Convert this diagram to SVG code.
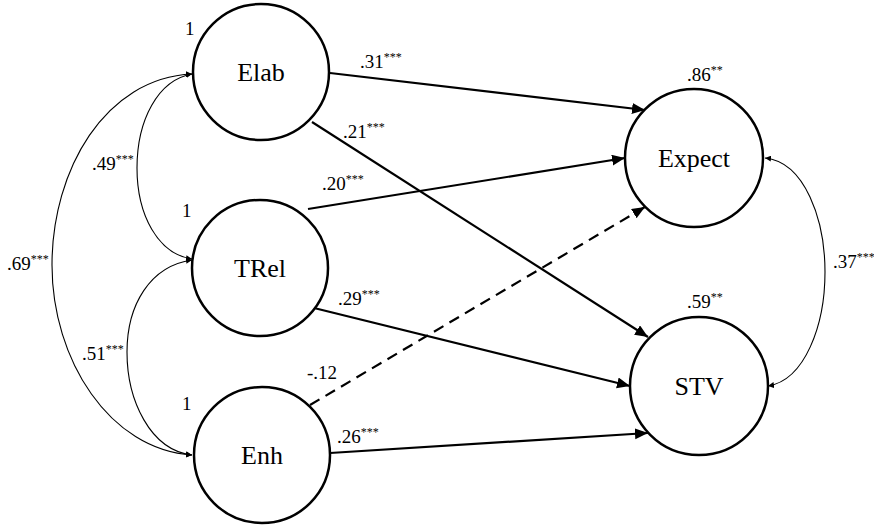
<svg xmlns="http://www.w3.org/2000/svg" width="874" height="525" viewBox="0 0 874 525" font-family="'Liberation Serif', 'DejaVu Serif', serif">
  <style>
    text { font-family: "Liberation Serif", "DejaVu Serif", serif; fill: #000; }
    .node circle { fill: #fff; stroke: #000; stroke-width: 2.5; }
    .node text { font-size: 26px; text-anchor: middle; }
    .path { fill: none; stroke: #000; stroke-width: 2.2; marker-end: url(#head); }
    .dash { stroke-dasharray: 11 7; }
    .cov { fill: none; stroke: #000; stroke-width: 1.1; marker-start: url(#tip); marker-end: url(#tip); }
    .lbl text { font-size: 19px; }
    .sup { font-size: 12px; }
  </style>
  <defs>
    <marker id="head" markerUnits="userSpaceOnUse" markerWidth="14" markerHeight="12" refX="13" refY="5.5" orient="auto">
      <path d="M0,0 L13,5.5 L0,11 z" fill="#000"/>
    </marker>
    <marker id="tip" markerUnits="userSpaceOnUse" markerWidth="7" markerHeight="6" refX="6" refY="3" orient="auto-start-reverse">
      <path d="M0,0 L6,3 L0,6 z" fill="#000"/>
    </marker>
  </defs>

  <!-- structural paths and covariances -->
  <g id="connectors">
    <line class="path" x1="330" y1="73" x2="645" y2="110"/>
    <line class="path" x1="312" y1="122" x2="648" y2="337"/>
    <line class="path" x1="308" y1="209" x2="625" y2="158"/>
    <line class="path" x1="310" y1="307" x2="630" y2="386"/>
    <line class="path dash" x1="310" y1="405" x2="645" y2="207"/>
    <line class="path" x1="330" y1="453" x2="648" y2="433"/>

    <path class="cov" d="M192,74 C158,80 137,120 137,168 C137,215 158,254 192,259"/>
    <path class="cov" d="M192,74 C105,78 52,170 52,265 C52,360 110,450 192,455"/>
    <path class="cov" d="M192,260 C150,266 127,305 127,352 C127,400 150,450 192,455"/>
    <path class="cov" d="M765,158 C805,162 825,220 825,272 C825,325 805,380 768,386"/>
  </g>

  <g id="Elab" class="node">
    <circle cx="261" cy="72" r="68"/>
    <text x="261" y="81">Elab</text>
  </g>
  <g id="TRel" class="node">
    <circle cx="260" cy="268" r="68"/>
    <text x="260" y="277">TRel</text>
  </g>
  <g id="Enh" class="node">
    <circle cx="262" cy="455" r="68"/>
    <text x="262" y="464">Enh</text>
  </g>
  <g id="Expect" class="node">
    <circle cx="694" cy="158" r="69"/>
    <text x="694" y="167">Expect</text>
  </g>
  <g id="STV" class="node">
    <circle cx="699" cy="386" r="69"/>
    <text x="699" y="395">STV</text>
  </g>

  <!-- coefficient labels -->
  <g id="labels" class="lbl">
    <text x="360" y="68">.31<tspan class="sup" dy="-7">***</tspan></text>
    <text x="343" y="138">.21<tspan class="sup" dy="-7">***</tspan></text>
    <text x="322" y="190">.20<tspan class="sup" dy="-7">***</tspan></text>
    <text x="338" y="305">.29<tspan class="sup" dy="-7">***</tspan></text>
    <text x="307" y="379">-.12</text>
    <text x="337" y="443">.26<tspan class="sup" dy="-7">***</tspan></text>
    <text x="687" y="81">.86<tspan class="sup" dy="-7">**</tspan></text>
    <text x="687" y="308">.59<tspan class="sup" dy="-7">**</tspan></text>
    <text x="833" y="268">.37<tspan class="sup" dy="-7">***</tspan></text>
    <text x="92" y="170">.49<tspan class="sup" dy="-7">***</tspan></text>
    <text x="7" y="270">.69<tspan class="sup" dy="-7">***</tspan></text>
    <text x="82" y="360">.51<tspan class="sup" dy="-7">***</tspan></text>
    <text x="185" y="35">1</text>
    <text x="182" y="217">1</text>
    <text x="182" y="410">1</text>
  </g>
</svg>
